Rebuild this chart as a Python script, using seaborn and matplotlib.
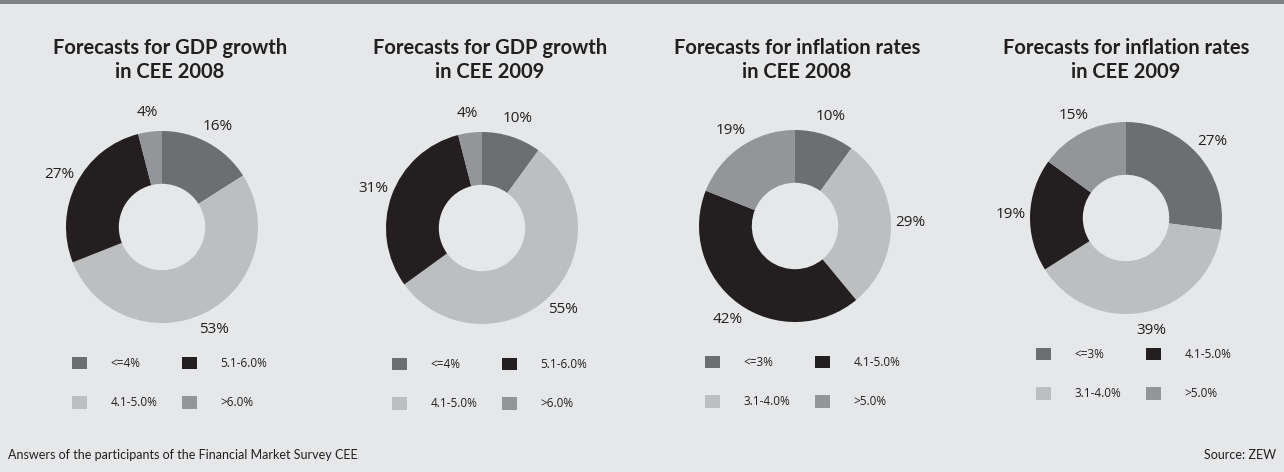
import matplotlib
matplotlib.use("Agg")
import matplotlib.pyplot as plt
from matplotlib.patches import Patch, Rectangle
import seaborn as sns

# ---- data ----
titles = [
    "Forecasts for GDP growth\nin CEE 2008",
    "Forecasts for GDP growth\nin CEE 2009",
    "Forecasts for inflation rates\nin CEE 2008",
    "Forecasts for inflation rates\nin CEE 2009",
]
gdp_categories = ["<=4%", "4.1-5.0%", "5.1-6.0%", ">6.0%"]
infl_categories = ["<=3%", "3.1-4.0%", "4.1-5.0%", ">5.0%"]
gdp_2008 = [16, 53, 27, 4]
gdp_2009 = [10, 55, 31, 4]
infl_2008 = [10, 29, 42, 19]
infl_2009 = [27, 39, 19, 15]
footer_left = "Answers of the participants of the Financial Market Survey CEE"
footer_right = "Source: ZEW"

series = [gdp_2008, gdp_2009, infl_2008, infl_2009]
cats = [gdp_categories, gdp_categories, infl_categories, infl_categories]

# ---- style ----
BG = "#e6e7e8"
colors = ["#6d6e71", "#bcbec0", "#231f20", "#939598"]
TXT = "#231f20"

sns.set_theme(style="white", rc={"figure.facecolor": BG, "axes.facecolor": BG})
plt.rcParams["font.family"] = ["Lato", "DejaVu Sans"]

W, H = 1284, 472
fig = plt.figure(figsize=(W / 100, H / 100), dpi=100)
fig.patch.set_facecolor(BG)

# top band
fig.add_artist(Rectangle((0, 1 - 4 / H), 1, 4 / H, transform=fig.transFigure,
                         facecolor="#808285", edgecolor="none"))

centers = [(162, 227), (482, 228), (795, 226), (1126, 218)]
title_x = [170, 490, 797, 1126]
half = 120  # px half-size of axes; data unit = 96 px

for i, (vals, labs, (cx, cy)) in enumerate(zip(series, cats, centers)):
    ax = fig.add_axes([(cx - half) / W, 1 - (cy + half) / H, 2 * half / W, 2 * half / H])
    ax.set_facecolor("none")
    wedges, texts = ax.pie(
        vals,
        colors=colors,
        labels=[f"{v}%" for v in vals],
        labeldistance=1.2,
        startangle=90,
        counterclock=False,
        radius=1.0,
        wedgeprops=dict(width=0.55, linewidth=0),
        textprops=dict(fontsize=11, color=TXT, family=["Open Sans", "DejaVu Sans"]),
    )
    for t in texts:
        t.set_ha("center")
        t.set_va("center")
    ax.set_xlim(-1.25, 1.25)
    ax.set_ylim(-1.25, 1.25)
    ax.set_aspect("equal")
    ax.axis("off")

    # title
    fig.text(title_x[i] / W, 1 - 60 / H, titles[i], ha="center", va="center",
             fontsize=14.5, fontweight="bold", color=TXT, linespacing=1.25)

    # legend
    handles = [Patch(facecolor=c, edgecolor="none") for c in colors]
    leg = fig.legend(
        handles, labs, ncol=2, loc="upper left",
        bbox_to_anchor=((cx - 90) / W, 1 - (cy + 130) / H),
        frameon=False, borderpad=0, borderaxespad=0,
        handlelength=1.25, handleheight=1.25, handletextpad=2.0,
        columnspacing=2.1, labelspacing=2.2,
        prop=dict(family=["Open Sans", "DejaVu Sans"], size=8.5),
    )
    for t in leg.get_texts():
        t.set_color(TXT)

fig.text(8 / W, 1 - 455 / H, footer_left, ha="left", va="center",
         fontsize=9, color=TXT)
fig.text(1276 / W, 1 - 455 / H, footer_right, ha="right", va="center",
         fontsize=9, color=TXT)

fig.savefig("out.png", dpi=100, facecolor=BG)
